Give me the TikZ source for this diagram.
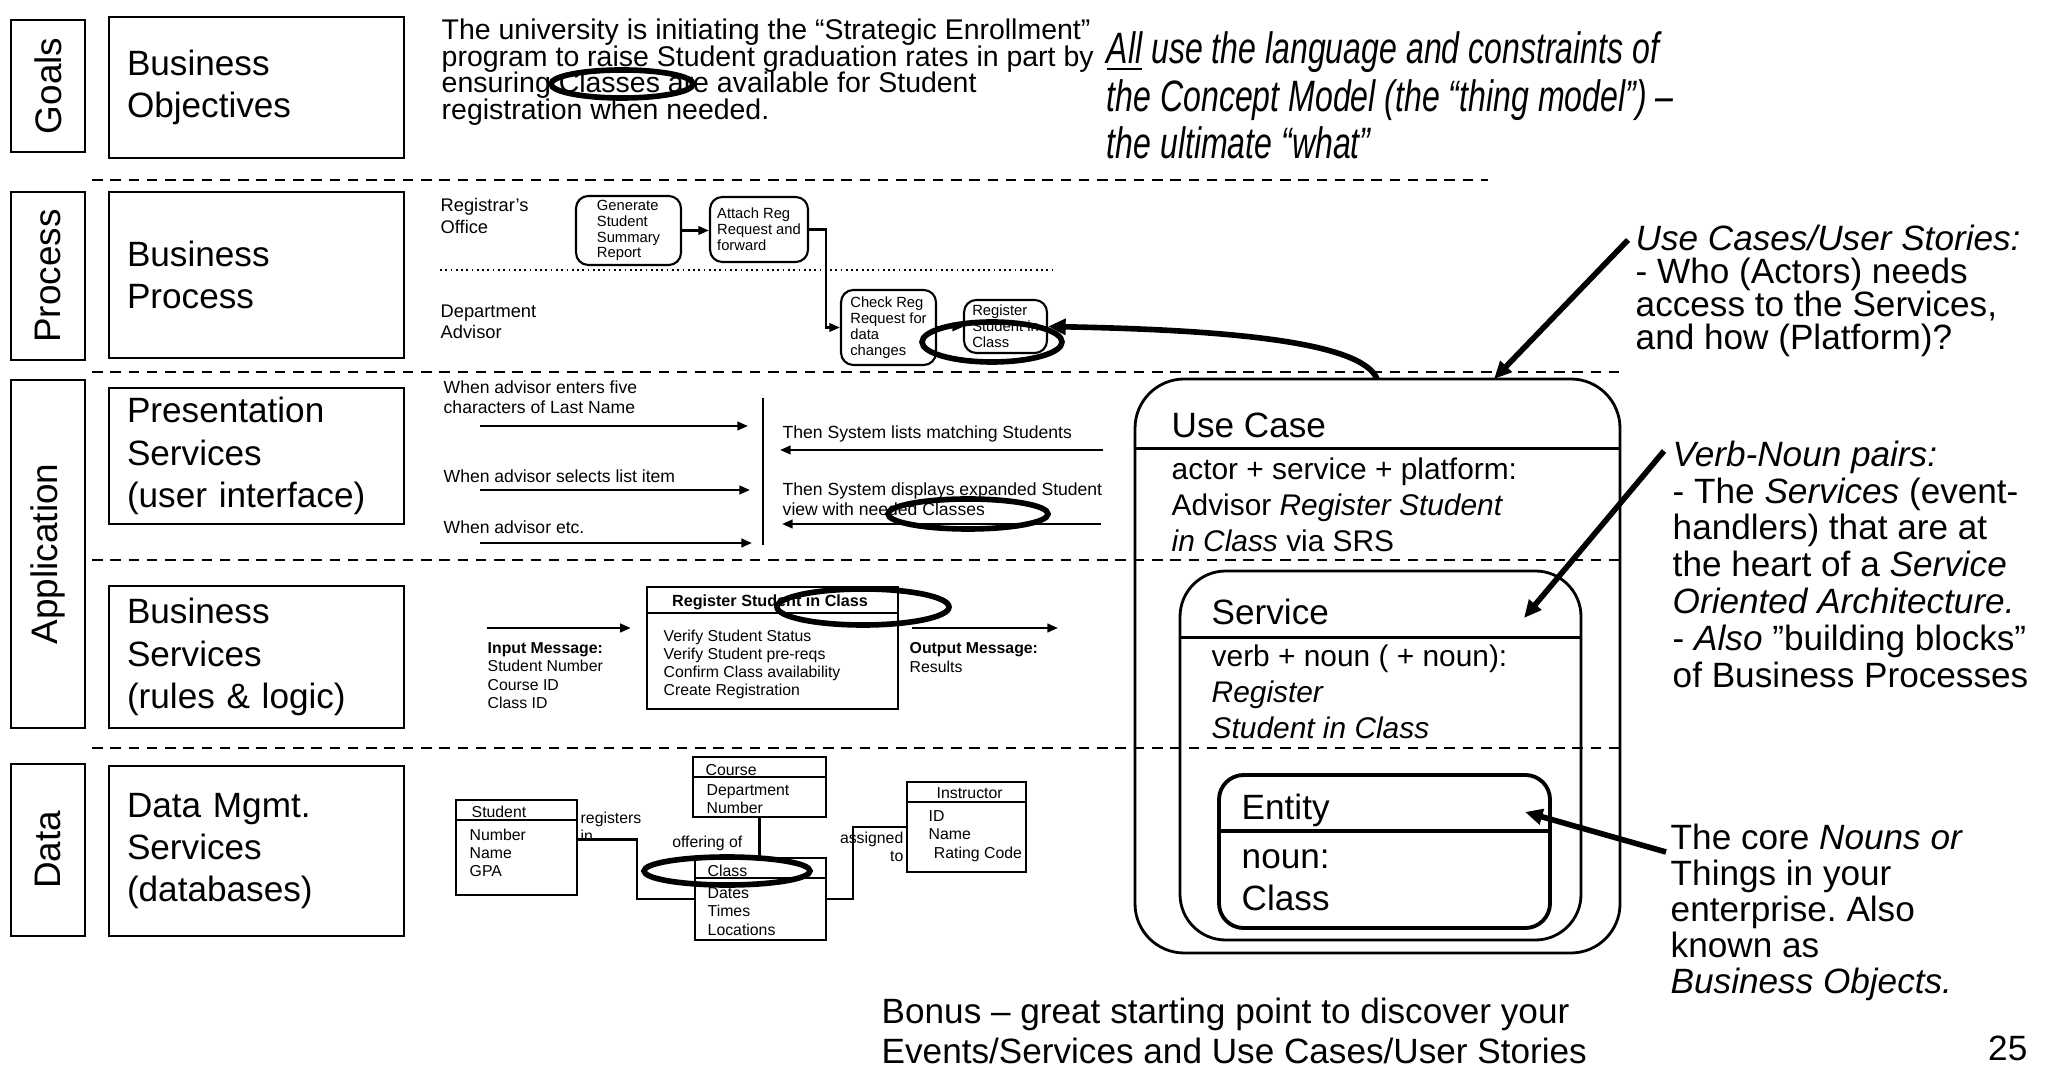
\documentclass[tikz,border=0pt]{standalone}
\usepackage{fontspec}
\usepackage{graphicx}
\setmainfont{Liberation Sans}
\usetikzlibrary{arrows.meta,positioning}
\frenchspacing
\newcommand\tightlines{\lineskiplimit-10pt\relax}

\begin{document}
\begin{tikzpicture}[y=-1cm,
    lanelbl/.style={draw, line width=0.8pt, rotate=90, minimum height=0.74cm, inner sep=0pt, font=\fontsize{10.5}{12}\selectfont},
    bizbox/.style={draw, line width=0.8pt, minimum width=2.95cm, text width=2.59cm, align=left, inner sep=0pt, font=\fontsize{10}{12}\selectfont},
    laneline/.style={dash pattern=on 3pt off 2.2pt, line width=0.6pt},
    erdtxt/.style={inner sep=0pt, align=left, font=\fontsize{4.5}{5.2}\selectfont},
    uitxt/.style={inner sep=0pt, align=left, font=\fontsize{5}{5.6}\selectfont},
    procbox/.style={draw, rounded corners=3.5pt, line width=0.6pt, align=left, inner sep=0pt, font=\fontsize{4.2}{4.5}\selectfont},
    tbl/.style={draw, line width=0.7pt, inner sep=0pt},
    flowarr/.style={line width=0.6pt, -{Triangle[length=3pt,width=2.4pt]}},
    uiarr/.style={line width=0.7pt, -{Triangle[length=3pt,width=2.4pt]}},
    fat/.style={line width=1.6pt, -{Triangle[length=5pt,width=4.4pt]}},
    ring/.style={line width=1.6pt},
    bigtxt/.style={inner sep=0pt, align=left, font=\fontsize{10}{12}\selectfont},
    rnote/.style={inner sep=0pt, align=left, anchor=north west},
  ]
  \useasboundingbox (0,0) rectangle (20.65,10.69);

  % lane labels
  \node[lanelbl, minimum width=1.32cm] (goals) at (0.48,0.86) {Goals};
  \node[lanelbl, minimum width=1.68cm] (process) at (0.48,2.76) {Process};
  \node[lanelbl, minimum width=3.48cm] (appl) at (0.48,5.54) {Application};
  \node[lanelbl, minimum width=1.72cm] (data) at (0.48,8.50) {Data};

  % layer boxes
  \node[bizbox, minimum height=1.41cm] (objectives) at (2.565,0.875) {Business\\Objectives};
  \node[bizbox, minimum height=1.66cm] (bproc) at (2.565,2.75) {Business\\Process};
  \node[bizbox, minimum height=1.36cm] (present) at (2.565,4.56) {Presentation\\Services\\(user interface)};
  \node[bizbox, minimum height=1.42cm] (bservices) at (2.565,6.57) {Business\\Services\\(rules \& logic)};
  \node[bizbox, minimum height=1.70cm] (datamgmt) at (2.565,8.51) {Data Mgmt.\\Services\\(databases)};

  % lane separators
  \draw[laneline] (0.92,1.80) -- (14.88,1.80);
  \foreach \y in {3.72,5.60,7.48}
    \draw[laneline] (0.92,\y) -- (16.20,\y);

  % goals
  \node[rnote, font={\fontsize{8.1}{7.6}\selectfont\tightlines}] (goaltxt) at (4.41,0.18) {The university is initiating the “Strategic Enrollment”\\program to raise Student graduation rates in part by\\ensuring Classes are available for Student\\registration when needed.};
  \draw[ring] (6.22,0.84) ellipse [x radius=0.71, y radius=0.14];
  \node[rnote] (headline) at (11.06,0.30) {\fontsize{12.5}{13.5}\selectfont\itshape\scalebox{0.73}[1]{\begin{tabular}{@{}l@{}}\underline{All} use the language and constraints of\\the Concept Model (the “thing model”) –\\the ultimate “what”\end{tabular}}};

  % process lane
  \node[rnote, font=\fontsize{5.2}{6}\selectfont] (registrar) at (4.40,1.98) {Registrar's\\Office};
  \node[procbox, minimum width=1.05cm, minimum height=0.69cm] (gen) at (6.285,2.305) {Generate\\Student\\Summary\\Report};
  \node[procbox, minimum width=0.98cm, minimum height=0.65cm] (attach) at (7.59,2.295) {Attach Reg\\Request and\\forward};
  \draw[densely dotted, line width=0.5pt] (4.40,2.70) -- (10.55,2.70);
  \node[rnote, font=\fontsize{5.2}{6}\selectfont] (advisor) at (4.40,3.04) {Department\\Advisor};
  \node[procbox, minimum width=0.95cm, minimum height=0.75cm] (check) at (8.885,3.275) {Check Reg\\Request for\\data\\changes};
  \node[procbox, minimum width=0.83cm, minimum height=0.53cm] (reg) at (10.055,3.265) {Register\\Student in\\Class};
  \draw[flowarr] (gen.east) -- (gen.east -| attach.west);
  \draw[flowarr] (attach.east) -- ++(0.17,0) |- (check.west);
  \draw[flowarr] (check) -- (reg);
  \draw[ring] (9.92,3.42) ellipse [x radius=0.70, y radius=0.20];

  % presentation lane
  \node[uitxt, anchor=north west] (when1) at (4.43,3.80) {When advisor enters five\\characters of Last Name};
  \node[uitxt, anchor=north west] (when2) at (4.43,4.69) {When advisor selects list item};
  \node[uitxt, anchor=north west] (when3) at (4.43,5.20) {When advisor etc.};
  \node[uitxt, anchor=north west] (then1) at (7.82,4.25) {Then System lists matching Students};
  \node[uitxt, anchor=north west] (then2) at (7.82,4.82) {Then System displays expanded Student\\view with needed Classes};
  \coordinate (uitop) at (7.63,3.98);
  \coordinate (uibot) at (7.63,5.45);
  \draw[line width=0.8pt] (uitop) -- (uibot);
  \coordinate (eva) at (4.80,4.26);
  \coordinate (evb) at (4.80,4.90);
  \coordinate (evc) at (4.80,5.43);
  \coordinate (sysa) at (11.03,4.50);
  \coordinate (sysb) at (11.01,5.24);
  \draw[uiarr, shorten >=0.15cm] (eva) -- (eva -| uitop);
  \draw[uiarr, shorten >=0.13cm] (evb) -- (evb -| uitop);
  \draw[uiarr, shorten >=0.11cm] (evc) -- (evc -| uitop);
  \draw[uiarr, shorten >=0.17cm] (sysa) -- (sysa -| uitop);
  \draw[uiarr, shorten >=0.19cm] (sysb) -- (sysb -| uitop);
  \draw[ring] (9.68,5.14) ellipse [x radius=0.80, y radius=0.15];

  % business services lane
  \node[tbl, minimum width=2.51cm, minimum height=1.22cm] (svcbox) at (7.725,6.48) {};
  \draw[line width=0.7pt] ([yshift=-0.27cm]svcbox.north west) -- ([yshift=-0.27cm]svcbox.north east);
  \node[erdtxt, font=\fontsize{4.6}{5.2}\selectfont\bfseries] (svchead) at (7.70,6.02) {Register Student in Class};
  \node[erdtxt, anchor=north west] (svcsteps) at (6.63,6.29) {Verify Student Status\\Verify Student pre-reqs\\Confirm Class availability\\Create Registration};
  \node[erdtxt, anchor=north west] (inmsg) at (4.87,6.42) {\textbf{Input Message:}\\Student Number\\Course ID\\Class ID};
  \node[erdtxt, anchor=north west] (outmsg) at (9.09,6.42) {\textbf{Output Message:}\\Results};
  \coordinate (inarr) at (4.87,6.28);
  \coordinate (outarr) at (10.58,6.28);
  \draw[uiarr, shorten >=0.15cm] (inarr) -- (inarr -| svcbox.west);
  \draw[uiarr, shorten <=0.13cm] (outarr -| svcbox.east) -- (outarr);
  \draw[ring] (8.63,6.07) ellipse [x radius=0.86, y radius=0.18];

  % data lane
  \node[tbl, minimum width=1.21cm, minimum height=0.95cm] (student) at (5.165,8.475) {};
  \node[tbl, minimum width=1.33cm, minimum height=0.60cm] (course) at (7.595,7.87) {};
  \node[tbl, minimum width=1.31cm, minimum height=0.82cm] (class) at (7.605,8.99) {};
  \node[tbl, minimum width=1.19cm, minimum height=0.90cm] (instr) at (9.665,8.27) {};
  \foreach \t in {student,course,class,instr}
    \draw[line width=0.7pt] ([yshift=-0.21cm]\t.north west) -- ([yshift=-0.21cm]\t.north east);
  \node[erdtxt, anchor=west] (studenthd) at (4.71,8.12) {Student};
  \node[erdtxt, anchor=north west] (studentatt) at (4.69,8.28) {Number\\Name\\GPA};
  \node[erdtxt, anchor=west] (coursehd) at (7.05,7.70) {Course};
  \node[erdtxt, anchor=north west] (courseatt) at (7.06,7.84) {Department\\Number};
  \node[erdtxt, anchor=west] (classhd) at (7.07,8.71) {Class};
  \node[erdtxt, anchor=north west] (classatt) at (7.07,8.87) {Dates\\Times\\Locations};
  \node[erdtxt, anchor=west] (instrhd) at (9.36,7.93) {Instructor};
  \node[erdtxt, anchor=north west] (instratt) at (9.28,8.10) {ID\\Name\\\hspace*{1.5pt}Rating Code};
  \draw[line width=0.6pt] (course.south) -- (course.south |- class.north);
  \draw[line width=0.6pt] ([yshift=0.08cm]student.east) -- ++(0.59,0) |- (class.west);
  \draw[line width=0.6pt] (class.east) -- ++(0.26,0) |- (instr.west);
  \node[erdtxt, anchor=north west] (regin) at (5.80,8.11) {registers\\in};
  \node[erdtxt, anchor=east] (offering) at (7.43,8.43) {offering of};
  \node[erdtxt, anchor=north east, align=right] (assigned) at (9.04,8.31) {assigned\\to};
  \draw[ring] (7.27,8.71) ellipse [x radius=0.83, y radius=0.14];

  % use case / service / entity nest
  \node[draw, line width=0.8pt, rounded corners=14pt, minimum width=4.85cm, minimum height=5.74cm] (uc) at (13.775,6.66) {};
  \draw[line width=0.8pt] ([yshift=-0.71cm]uc.north west) -- ([yshift=-0.71cm]uc.north east);
  \node[bigtxt, anchor=base west] (uctitle) at (11.71,4.38) {Use Case};
  \node[rnote, font=\fontsize{8.5}{10.2}\selectfont] (ucbody) at (11.71,4.57) {actor + service + platform:\\Advisor \textit{Register Student}\\\textit{in Class} via SRS};
  \node[draw, line width=0.8pt, rounded corners=13pt, minimum width=4.01cm, minimum height=3.69cm] (svc) at (13.805,7.555) {};
  \draw[line width=0.8pt] ([yshift=-0.68cm]svc.north west) -- ([yshift=-0.68cm]svc.north east);
  \node[bigtxt, anchor=base west] (svctitle) at (12.11,6.25) {Service};
  \node[rnote, font=\fontsize{8.5}{10.2}\selectfont] (svcbody) at (12.11,6.44) {verb + noun ( + noun):\\\textit{Register}\\\textit{Student in Class}};
  \node[draw, line width=1.1pt, rounded corners=7pt, minimum width=3.31cm, minimum height=1.53cm] (ent) at (13.845,8.515) {};
  \draw[line width=1.1pt] ([yshift=-0.58cm]ent.north west) -- ([yshift=-0.58cm]ent.north east);
  \node[bigtxt, anchor=base west] (enttitle) at (12.41,8.19) {Entity};
  \node[rnote, font=\fontsize{10}{12}\selectfont] (entbody) at (12.41,8.49) {noun:\\Class};

  % notes on the right
  \node[rnote, font=\fontsize{10}{9.4}\selectfont] (ucnote) at (16.35,2.24) {\textit{Use Cases/User Stories:}\\- Who (Actors) needs\\access to the Services,\\and how (Platform)?};
  \node[rnote, font=\fontsize{10}{10.5}\selectfont] (verbnote) at (16.72,4.40) {\textit{Verb-Noun pairs:}\\- The \textit{Services} (event-\\handlers) that are at\\the heart of a \textit{Service}\\\textit{Oriented Architecture.}\\- \textit{Also} "building blocks"\\of Business Processes};
  \node[rnote, font=\fontsize{10}{10.3}\selectfont] (corenote) at (16.70,8.23) {The core \textit{Nouns or}\\Things in your\\enterprise. Also\\known as\\\textit{Business Objects.}};
  \node[rnote, font=\fontsize{10}{11.4}\selectfont] (bonus) at (8.81,9.97) {Bonus – great starting point to discover your\\Events/Services and Use Cases/User Stories};
  \node[bigtxt, anchor=base east] (pagenum) at (20.28,10.60) {25};

  % pointers
  \coordinate (ucfrom) at (16.28,2.40);
  \coordinate (ucto) at (14.94,3.79);
  \draw[fat] (ucfrom) -- (ucto);
  \coordinate (verbfrom) at (16.64,4.51);
  \coordinate (verbto) at (15.24,6.18);
  \draw[fat] (verbfrom) -- (verbto);
  \coordinate (entfrom) at (16.66,8.52);
  \coordinate (entto) at (15.25,8.12);
  \draw[fat] (entfrom) -- (entto);
  \coordinate (ucfoot) at (13.77,3.79);
  \draw[fat] (ucfoot) .. controls (13.62,3.42) and (12.3,3.30) .. (reg.east);
\end{tikzpicture}
\end{document}
